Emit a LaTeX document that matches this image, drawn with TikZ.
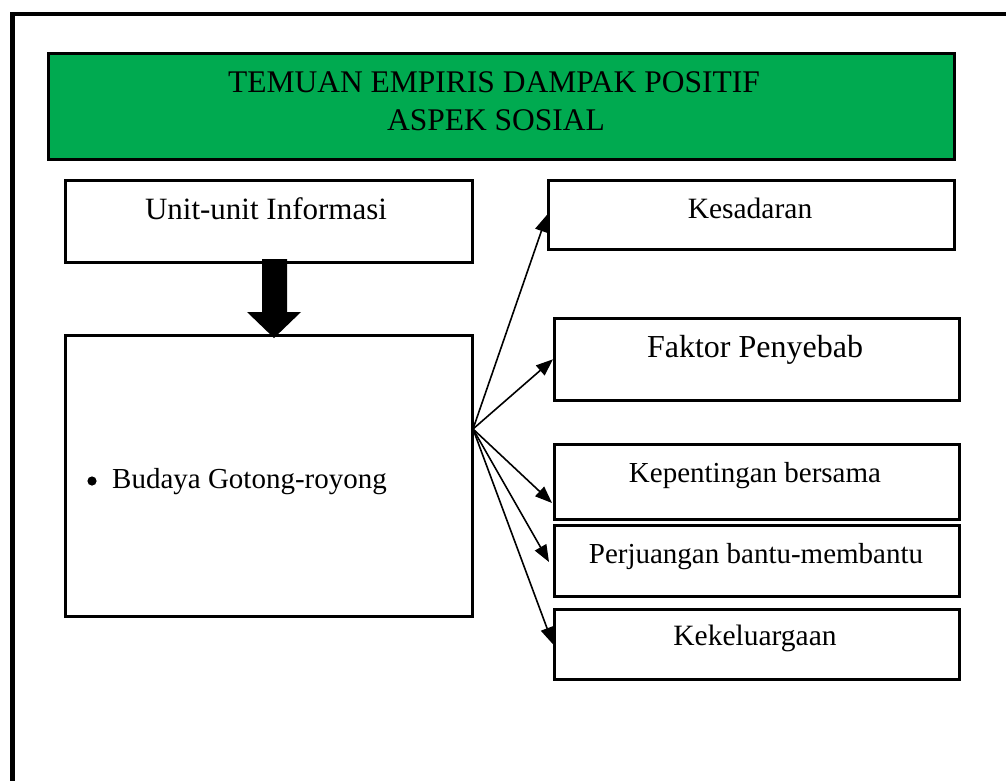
\documentclass[tikz,border=0pt]{standalone}
\usepackage{fontspec}
\setmainfont{Liberation Serif}
\usetikzlibrary{arrows.meta}
\definecolor{titlegreen}{RGB}{0,170,80}
\begin{document}
\begin{tikzpicture}[x=1pt,y=-1pt,
  box/.style={draw=black,line width=2.6pt,fill=white,anchor=north west,inner sep=0pt},
  lbl/.style={anchor=base,inner sep=0pt},
  fan/.style={line width=1.6pt,-{Triangle[length=17pt,width=13pt]}}]
\useasboundingbox (0,0) rectangle (1006,780);
% outer frame, running past the page on the right and at the bottom
\begin{scope}
  \clip (0,0) rectangle (1006,780);
  \draw[line width=4.5pt] (12.5,14) rectangle (1040,820);
\end{scope}

% title banner
\node[box,fill=titlegreen,minimum width=906pt,minimum height=106pt] (title) at (47,52) {};
\node[lbl,font=\fontsize{31.5}{38}\selectfont] (t1) at (494,92) {TEMUAN EMPIRIS DAMPAK POSITIF};
\node[lbl,font=\fontsize{31.5}{38}\selectfont] (t2) at (496,130) {ASPEK SOSIAL};

% left column
\node[box,minimum width=407pt,minimum height=82pt] (unit) at (64,179) {};
\node[lbl,font=\fontsize{31}{36}\selectfont] (unitl) at (266,219) {Unit-unit Informasi};
\node[box,minimum width=407pt,minimum height=281pt] (budaya) at (64,334) {};
\fill (92,481) circle (4.6);
\node[lbl,anchor=base west,font=\fontsize{29}{34}\selectfont] (budayal) at (112,488) {Budaya Gotong-royong};

% right column
\node[box,minimum width=406pt,minimum height=69pt] (kes) at (547,179) {};
\node[lbl,font=\fontsize{29.5}{34}\selectfont] (kesl) at (750,218) {Kesadaran};
\node[box,minimum width=405pt,minimum height=82pt] (fak) at (553,317) {};
\node[lbl,font=\fontsize{32}{38}\selectfont] (fakl) at (755,357) {Faktor Penyebab};
\node[box,minimum width=405pt,minimum height=75pt] (kep) at (553,443) {};
\node[lbl,font=\fontsize{29}{34}\selectfont] (kepl) at (755,482) {Kepentingan bersama};
\node[box,minimum width=405pt,minimum height=71pt] (per) at (553,524) {};
\node[lbl,font=\fontsize{29}{34}\selectfont] (perl) at (756,563) {Perjuangan bantu-membantu};
\node[box,minimum width=405pt,minimum height=70pt] (kel) at (553,608) {};
\node[lbl,font=\fontsize{29.5}{34}\selectfont] (kell) at (755,645) {Kekeluargaan};

% block arrow from the information units down to the culture box
\fill (262,259) -- (287,259) -- (287,312) -- (301,312) -- (274,338)
      -- (247,312) -- (262,312) -- cycle;

% fan of arrows to the findings
\coordinate (hub) at (473,429);
\coordinate (kepin) at (552,503);
\coordinate (perin) at (549,562);
\draw[fan] (hub) -- (kes.west);
\draw[fan] (hub) -- (fak.west);
\draw[fan] (hub) -- (kepin);
\draw[fan] (hub) -- (perin);
\draw[fan] (hub) -- (kel.west);
\end{tikzpicture}
\end{document}
